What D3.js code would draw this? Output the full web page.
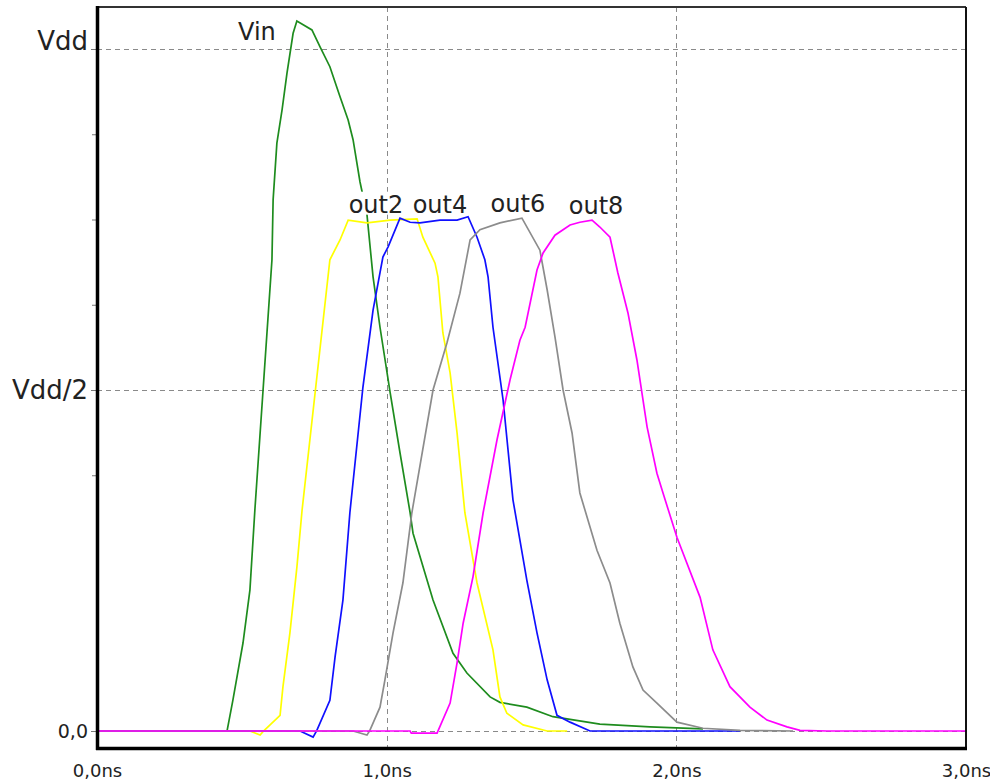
<!DOCTYPE html>
<html>
<head>
<meta charset="utf-8">
<script src="https://cdn.jsdelivr.net/npm/d3@7/dist/d3.min.js"></script>
<style>
  body { margin: 0; background: #fff; }
  svg { display: block; font-family: "DejaVu Sans", sans-serif; }
</style>
</head>
<body>
<svg id="chart"></svg>
<script>

  // ---------------------------//
  //            DATA            //
  // ---------------------------//

    // [time in ns, voltage as fraction of Vdd]
    var vin = [[0, 0], [0.449, 0], [0.469, 0.045], [0.504, 0.129], [0.528, 0.207], [0.545, 0.324],
        [0.604, 0.691], [0.608, 0.779], [0.621, 0.862], [0.639, 0.911], [0.656, 0.965], [0.677, 1.023],
        [0.690, 1.041], [0.742, 1.028], [0.770, 1.003], [0.804, 0.974], [0.839, 0.930], [0.867, 0.896],
        [0.884, 0.867], [0.908, 0.805], [0.932, 0.757], [0.953, 0.666], [0.977, 0.592], [1.012, 0.496],
        [1.046, 0.408], [1.081, 0.320], [1.091, 0.290], [1.160, 0.192], [1.229, 0.114], [1.277, 0.085],
        [1.357, 0.050], [1.391, 0.042], [1.484, 0.035], [1.574, 0.021], [1.736, 0.010], [1.909, 0.006],
        [2.092, 0.003]];

    var out2 = [[0, 0], [0.528, 0], [0.563, -0.006], [0.573, -0.001], [0.632, 0.023], [0.642, 0.065],
        [0.666, 0.144], [0.690, 0.240], [0.708, 0.324], [0.804, 0.691], [0.839, 0.720], [0.867, 0.749],
        [0.932, 0.745], [1.012, 0.749], [1.105, 0.751], [1.125, 0.724], [1.167, 0.686], [1.177, 0.666],
        [1.194, 0.584], [1.219, 0.525], [1.243, 0.437], [1.270, 0.320], [1.312, 0.217], [1.367, 0.119],
        [1.391, 0.050], [1.415, 0.026], [1.471, 0.009], [1.554, 0], [1.623, 0]];

    var out4 = [[0, 0], [0.701, 0], [0.746, -0.009], [0.759, 0.001], [0.804, 0.045], [0.822, 0.109],
        [0.849, 0.192], [0.873, 0.320], [0.918, 0.504], [0.953, 0.617], [0.987, 0.695], [1.005, 0.710],
        [1.046, 0.752], [1.081, 0.746], [1.115, 0.745], [1.184, 0.749], [1.243, 0.749], [1.281, 0.754],
        [1.312, 0.724], [1.339, 0.691], [1.350, 0.666], [1.367, 0.592], [1.402, 0.485], [1.436, 0.339],
        [1.484, 0.221], [1.519, 0.144], [1.554, 0.075], [1.588, 0.023], [1.633, 0.013], [1.702, 0],
        [2.220, 0]];

    var out6 = [[0, 0], [0.884, 0], [0.932, -0.006], [0.942, 0.001], [0.977, 0.035], [0.994, 0.075],
        [1.022, 0.144], [1.056, 0.217], [1.087, 0.320], [1.160, 0.5], [1.208, 0.569], [1.253, 0.642],
        [1.288, 0.720], [1.322, 0.735], [1.391, 0.745], [1.467, 0.752], [1.529, 0.705], [1.554, 0.647],
        [1.581, 0.578], [1.609, 0.5], [1.640, 0.437], [1.667, 0.349], [1.726, 0.265], [1.771, 0.217],
        [1.805, 0.158], [1.850, 0.094], [1.885, 0.060], [1.933, 0.041], [2.002, 0.013], [2.092, 0.004],
        [2.220, 0.001], [2.403, 0]];

    var out8 = [[0, 0], [1.081, 0], [1.085, -0.003], [1.174, -0.003], [1.219, 0.041], [1.243, 0.100],
        [1.264, 0.158], [1.298, 0.226], [1.333, 0.320], [1.381, 0.427], [1.426, 0.515], [1.460, 0.573],
        [1.478, 0.592], [1.519, 0.676], [1.540, 0.701], [1.581, 0.727], [1.633, 0.742], [1.667, 0.746],
        [1.709, 0.749], [1.736, 0.739], [1.771, 0.724], [1.798, 0.672], [1.833, 0.613], [1.864, 0.544],
        [1.899, 0.446], [1.933, 0.378], [1.954, 0.349], [2.002, 0.284], [2.082, 0.196], [2.126, 0.119],
        [2.185, 0.065], [2.254, 0.035], [2.313, 0.016], [2.382, 0.006], [2.427, 0.001], [2.520, 0],
        [3.0, 0]];

    var seriesNames = ["Vin", "out2", "out4", "out6", "out8"];
    var seriesData = [vin, out2, out4, out6, out8];

    var xTickValues = [0, 1, 2, 3];
    var xTickLabels = ["0,0ns", "1,0ns", "2,0ns", "3,0ns"];
    var yTickValues = [0, 0.5, 1];
    var yTickLabels = ["0,0", "Vdd/2", "Vdd"];
    var yMinorTicks = [0.375, 0.625, 0.75, 0.875];

  // ---------------------------//
  //         DIMENSIONS         //
  // ---------------------------//

    var width = 990, height = 784;
    var plot = { left: 97, right: 966, top: 7, bottom: 748 };

  // ---------------------------//
  //           COLORS           //
  // ---------------------------//

    var colors = ["#1e8c1e", "#ffff00", "#1010ff", "#8c8c8c", "#ff00ff"];

    // label anchors (time, level) for each curve name
    var labelAt = [[0.552, 1.013], [0.963, 0.760], [1.184, 0.760], [1.453, 0.761], [1.723, 0.758]];

  // ---------------------------//
  //       AXIS  AND SCALE      //
  // ---------------------------//

    var x = d3.scaleLinear().domain([0, 3]).range([plot.left, plot.right]);
    var y = d3.scaleLinear().domain([0, 1]).range([731, 49]);

    var svg = d3.select("#chart")
        .attr("width", width)
        .attr("height", height);

    svg.append("rect").attr("width", width).attr("height", height).attr("fill", "#fff");

    // grid
    var grid = svg.append("g")
        .attr("stroke", "#8a8a8a")
        .attr("stroke-width", 1)
        .attr("stroke-dasharray", "5,4");

    grid.selectAll(".hg")
        .data(yTickValues)
        .enter().append("line")
        .attr("x1", plot.left)
        .attr("x2", plot.right)
        .attr("y1", d => Math.round(y(d)) + 0.5)
        .attr("y2", d => Math.round(y(d)) + 0.5);

    grid.selectAll(".vg")
        .data([1, 2])
        .enter().append("line")
        .attr("x1", d => Math.round(x(d)) + 0.5)
        .attr("x2", d => Math.round(x(d)) + 0.5)
        .attr("y1", plot.top)
        .attr("y2", plot.bottom);

  // ---------------------------//
  //           DRAWING          //
  // ---------------------------//

    var line = d3.line()
        .x(d => x(d[0]))
        .y(d => y(d[1]));

    svg.selectAll(".curve")
        .data(seriesData)
        .enter().append("path")
        .attr("class", "curve")
        .attr("fill", "none")
        .attr("stroke", (d, i) => colors[i])
        .attr("stroke-width", 1.7)
        .attr("stroke-linejoin", "miter")
        .attr("d", line);

    // curve labels with white backing
    var labels = svg.append("g")
        .selectAll("g")
        .data(seriesNames)
        .enter().append("g");

    labels.append("text")
        .attr("x", (d, i) => x(labelAt[i][0]))
        .attr("y", (d, i) => y(labelAt[i][1]))
        .attr("text-anchor", "middle")
        .attr("fill", "#222")
        .style("font-size", "24px")
        .text(d => d);

    labels.each(function() {
        var g = d3.select(this);
        var t = g.select("text");
        var bb = t.node().getBBox();
        var base = +t.attr("y");
        g.insert("rect", "text")
            .attr("x", bb.x - 1)
            .attr("y", bb.y + 1)
            .attr("width", bb.width + 2)
            .attr("height", base + 2 - bb.y - 1)
            .attr("fill", "#fff");
    });

    // frame
    svg.append("line")
        .attr("x1", plot.left).attr("x2", plot.right)
        .attr("y1", plot.top).attr("y2", plot.top)
        .attr("stroke", "#333").attr("stroke-width", 2);
    svg.append("line")
        .attr("x1", plot.right).attr("x2", plot.right)
        .attr("y1", plot.top).attr("y2", plot.bottom)
        .attr("stroke", "#111").attr("stroke-width", 2);

    // append y-axis
    var yAxis = svg.append("g")
        .attr("transform", "translate(" + (plot.left - 1) + ",0)")
        .call(d3.axisLeft(y)
            .tickValues(yTickValues)
            .tickSize(5)
            .tickPadding(3)
            .tickFormat((d, i) => yTickLabels[i]));

    yAxis.select(".domain").remove();
    yAxis.selectAll(".tick line").attr("stroke", "#777");
    yAxis.selectAll(".tick text")
        .attr("fill", "#222")
        .style("font-family", "DejaVu Sans, sans-serif")
        .style("font-size", (d, i) => i === 0 ? "19px" : "26px")
        .attr("dy", (d, i) => i === 2 ? "0.0em" : "0.34em");

    svg.append("g")
        .attr("transform", "translate(" + (plot.left - 1) + ",0)")
        .call(d3.axisLeft(y).tickValues(yMinorTicks).tickSize(4).tickFormat(""))
        .call(g => g.select(".domain").remove())
        .selectAll(".tick line").attr("stroke", "#777");

    // append x-axis
    var xAxis = svg.append("g")
        .attr("transform", "translate(0," + plot.bottom + ")")
        .call(d3.axisBottom(x)
            .tickValues(xTickValues)
            .tickSize(0)
            .tickPadding(16)
            .tickFormat((d, i) => xTickLabels[i]));

    xAxis.select(".domain").remove();
    xAxis.selectAll(".tick text")
        .attr("fill", "#222")
        .style("font-family", "DejaVu Sans, sans-serif")
        .style("font-size", "18px");

    // thick left and bottom axis lines
    svg.append("line")
        .attr("x1", plot.left + 0.5).attr("x2", plot.left + 0.5)
        .attr("y1", plot.top - 1).attr("y2", plot.bottom + 2)
        .attr("stroke", "#000").attr("stroke-width", 3.5);
    svg.append("line")
        .attr("x1", plot.left - 1).attr("x2", plot.right + 1)
        .attr("y1", plot.bottom + 0.5).attr("y2", plot.bottom + 0.5)
        .attr("stroke", "#000").attr("stroke-width", 3.5);

</script>
</body>
</html>
